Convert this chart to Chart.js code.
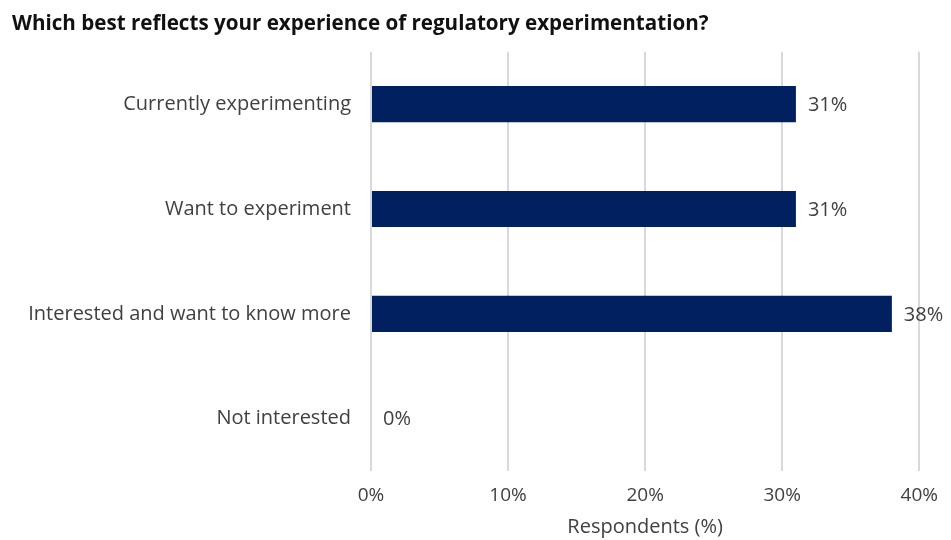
<!DOCTYPE html>
<html>
<head>
<meta charset="utf-8">
<script src="https://cdn.jsdelivr.net/npm/chart.js@4"></script>
<style>
  html, body { margin: 0; padding: 0; background: #fff; }
  #wrap { width: 951px; height: 540px; }
</style>
</head>
<body>
<div id="wrap"><canvas id="chart"></canvas></div>
<script>
const categories = ["Currently experimenting", "Want to experiment", "Interested and want to know more", "Not interested"];
const respondents = [31, 31, 38, 0];
const xTicks = [0, 10, 20, 30, 40];

const FONT = "'Open Sans', 'Liberation Sans', Arial, sans-serif";

// writes "31%" etc. just past the end of each bar
const barLabels = {
  id: "barLabels",
  afterDatasetsDraw(chart) {
    const ctx = chart.ctx;
    const meta = chart.getDatasetMeta(0);
    ctx.save();
    ctx.font = "20px " + FONT;
    ctx.fillStyle = "#404040";
    ctx.textAlign = "left";
    ctx.textBaseline = "middle";
    meta.data.forEach((bar, i) => {
      ctx.fillText(respondents[i] + "%", bar.x + 12, bar.y + 1);
    });
    ctx.restore();
  }
};

new Chart(document.getElementById("chart"), {
  type: "bar",
  data: {
    labels: categories,
    datasets: [{
      data: respondents,
      backgroundColor: "#002060",
      barPercentage: 0.69,
      categoryPercentage: 0.5
    }]
  },
  options: {
    indexAxis: "y",
    responsive: true,
    maintainAspectRatio: false,
    animation: false,
    layout: { padding: { left: 12, right: 29, bottom: 1 } },
    scales: {
      x: {
        min: 0,
        max: 40,
        afterBuildTicks: axis => { axis.ticks = xTicks.map(v => ({ value: v })); },
        border: { display: false },
        grid: { color: "#d9d9d9", lineWidth: 2, drawTicks: false },
        ticks: { padding: 13, color: "#404040", font: { family: FONT, size: 19 }, callback: v => v + "%" },
        title: { display: true, text: "Respondents (%)", color: "#404040", font: { family: FONT, size: 20 }, padding: { top: -5, bottom: 0 } }
      },
      y: {
        afterFit: axis => { axis.width = 359; },
        border: { display: false },
        grid: { display: false, drawTicks: false },
        ticks: { padding: 20, color: "#404040", font: { family: FONT, size: 20 } }
      }
    },
    plugins: {
      legend: { display: false },
      tooltip: { enabled: false },
      title: {
        display: true,
        text: "Which best reflects your experience of regulatory experimentation?",
        align: "start",
        color: "#111",
        font: { family: FONT, size: 20.6, weight: "bold" },
        padding: { top: 12, bottom: 15 }
      }
    }
  },
  plugins: [barLabels]
});
</script>
</body>
</html>
